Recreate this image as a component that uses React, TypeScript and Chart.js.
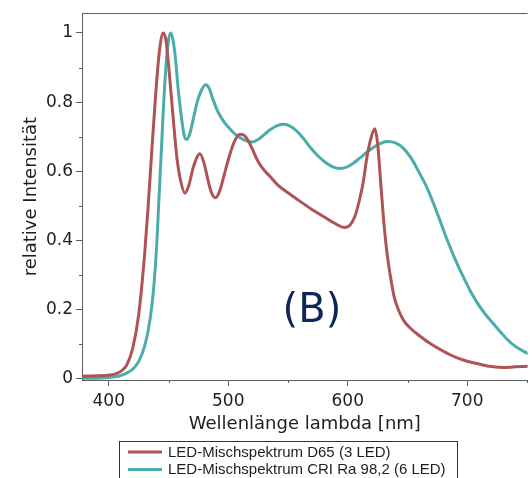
import React, { useEffect, useRef } from "react";
import { Chart, registerables } from "chart.js";

Chart.register(...registerables);

// Spectrum of the 3-LED D65 mix
const wavelengthsD65 = [
  378, 390, 400, 405, 410, 415, 420, 425, 430, 433, 436, 439, 442, 445.5, 448, 451, 454, 457, 460,
  463.8, 467, 471, 476.3, 480, 483, 486, 489.5, 493, 497, 501, 505, 510, 514, 519, 524, 528, 535,
  542, 550, 561, 570, 580, 590, 597, 602, 606, 610, 613, 616, 619, 622.5, 625, 627.5, 630, 633, 636,
  639, 643, 647, 652, 660, 670, 680, 690, 700, 710, 720, 730, 740, 751,
];
const intensityD65 = [
  0.008, 0.009, 0.011, 0.014, 0.022, 0.04, 0.088, 0.185, 0.36, 0.5, 0.66, 0.81, 0.935, 1.0, 0.975,
  0.87, 0.75, 0.64, 0.575, 0.537, 0.56, 0.615, 0.651, 0.62, 0.575, 0.538, 0.524, 0.545, 0.595, 0.645,
  0.685, 0.707, 0.702, 0.673, 0.635, 0.612, 0.585, 0.559, 0.538, 0.511, 0.49, 0.469, 0.448, 0.438,
  0.445, 0.47, 0.52, 0.57, 0.64, 0.69, 0.723, 0.68, 0.57, 0.46, 0.36, 0.29, 0.235, 0.195, 0.168,
  0.148, 0.125, 0.1, 0.08, 0.063, 0.051, 0.043, 0.036, 0.033, 0.035, 0.037,
];

// Spectrum of the 6-LED high-CRI mix
const wavelengthsCRI = [
  378, 390, 400, 405, 410, 415, 420, 425, 430, 433, 436, 438, 440, 442, 444, 446, 448, 450, 452, 454,
  456, 458, 460.5, 463, 465, 467.5, 471, 474, 477, 481, 484, 487, 491, 496, 500, 505.5, 510, 515, 520,
  525, 530, 535, 541, 547, 553, 561, 568, 575, 582, 588, 593, 599, 604, 610, 616, 622, 627, 633, 640,
  647, 654, 660, 666, 672, 678, 684, 690, 696, 702, 708, 714, 721, 728, 735, 742, 751,
];
const intensityCRI = [
  0.002, 0.002, 0.004, 0.006, 0.01, 0.017, 0.028, 0.05, 0.095, 0.14, 0.21, 0.28, 0.38, 0.52, 0.66,
  0.8, 0.91, 0.98, 1.0, 0.975, 0.92, 0.84, 0.765, 0.705, 0.692, 0.705, 0.755, 0.8, 0.83, 0.85, 0.84,
  0.81, 0.775, 0.745, 0.728, 0.708, 0.697, 0.688, 0.685, 0.692, 0.706, 0.72, 0.732, 0.736, 0.728,
  0.703, 0.672, 0.645, 0.624, 0.612, 0.608, 0.612, 0.622, 0.638, 0.655, 0.67, 0.68, 0.686, 0.682,
  0.665, 0.633, 0.595, 0.555, 0.505, 0.45, 0.395, 0.345, 0.3, 0.258, 0.222, 0.192, 0.163, 0.135,
  0.109, 0.09, 0.073,
];

const seriesLabels = ["LED-Mischspektrum D65 (3 LED)", "LED-Mischspektrum CRI Ra 98,2 (6 LED)"];
const seriesColors = ["#b05354", "#4aadaa"];

const xAxisTitle = "Wellenlänge lambda [nm]";
const yAxisTitle = "relative Intensität";
const panelLabel = "(B)";

const AXIS_COLOR = "#5e5e5e";
const TEXT_COLOR = "#1e1e1e";
const TICK_FONT = "'DejaVu Sans', Verdana, sans-serif";
const LEGEND_FONT = "'Liberation Sans', Arial, sans-serif";

const isMajorX = (v: number) => Math.abs(v % 100) < 1e-6;
const isMajorY = (v: number) => Math.round(v * 10) % 2 === 0;

// Short minor ticks between the labelled ones, plus the top frame line
const minorTicks = {
  id: "minorTicks",
  afterDraw(chart: any) {
    const { ctx, chartArea, scales } = chart;
    ctx.save();
    ctx.strokeStyle = AXIS_COLOR;
    ctx.lineWidth = 1;
    ctx.beginPath();
    for (const t of scales.x.ticks) {
      if (isMajorX(t.value)) continue;
      const px = Math.round(scales.x.getPixelForValue(t.value)) + 0.5;
      ctx.moveTo(px, chartArea.bottom);
      ctx.lineTo(px, chartArea.bottom + 3);
    }
    for (const t of scales.y.ticks) {
      if (isMajorY(t.value)) continue;
      const py = Math.round(scales.y.getPixelForValue(t.value)) + 0.5;
      ctx.moveTo(chartArea.left - 3, py);
      ctx.lineTo(chartArea.left, py);
    }
    ctx.stroke();
    ctx.beginPath();
    ctx.moveTo(chartArea.left, Math.round(chartArea.top) + 0.5);
    ctx.lineTo(chartArea.right, Math.round(chartArea.top) + 0.5);
    ctx.stroke();
    ctx.restore();
  },
};

// "(B)" panel marker placed in data coordinates
const panelMarker = {
  id: "panelMarker",
  afterDraw(chart: any) {
    const { ctx, scales } = chart;
    ctx.save();
    ctx.font = `40px ${TICK_FONT}`;
    ctx.fillStyle = "#0f2656";
    ctx.textAlign = "center";
    ctx.textBaseline = "alphabetic";
    ctx.fillText(panelLabel, scales.x.getPixelForValue(570), scales.y.getPixelForValue(0.165));
    ctx.restore();
  },
};

// Boxed legend under the axis title
const boxedLegend = {
  id: "boxedLegend",
  afterDraw(chart: any) {
    const { ctx } = chart;
    const left = 119.5;
    const top = 441.5;
    ctx.save();
    ctx.strokeStyle = "#333333";
    ctx.lineWidth = 1;
    ctx.strokeRect(left, top, 338, 60);
    ctx.font = `15px ${LEGEND_FONT}`;
    ctx.textBaseline = "middle";
    ctx.textAlign = "left";
    chart.data.datasets.forEach((ds: any, i: number) => {
      const y = 452 + i * 17.5;
      ctx.strokeStyle = ds.borderColor;
      ctx.lineWidth = 3;
      ctx.beginPath();
      ctx.moveTo(128, y);
      ctx.lineTo(162, y);
      ctx.stroke();
      ctx.fillStyle = TEXT_COLOR;
      ctx.fillText(ds.label, 168, y + 0.5);
    });
    ctx.restore();
  },
};

export default function App() {
  const canvasRef = useRef<HTMLCanvasElement>(null);

  useEffect(() => {
    const canvas = canvasRef.current;
    if (!canvas) return;
    const toPoints = (xs: number[], ys: number[]) => xs.map((x, i) => ({ x, y: ys[i] }));

    const chart = new Chart(canvas, {
      type: "line",
      data: {
        datasets: [
          {
            label: seriesLabels[0],
            data: toPoints(wavelengthsD65, intensityD65),
            borderColor: seriesColors[0],
            borderWidth: 3,
            pointRadius: 0,
            cubicInterpolationMode: "monotone",
            fill: false,
          },
          {
            label: seriesLabels[1],
            data: toPoints(wavelengthsCRI, intensityCRI),
            borderColor: seriesColors[1],
            borderWidth: 3,
            pointRadius: 0,
            cubicInterpolationMode: "monotone",
            fill: false,
          },
        ],
      },
      options: {
        animation: false,
        responsive: false,
        devicePixelRatio: 1,
        layout: { padding: { top: 9, left: 0, right: 0, bottom: 40 } },
        plugins: { legend: { display: false }, tooltip: { enabled: false } },
        scales: {
          x: {
            type: "linear",
            min: 377.6,
            max: 750.5,
            afterFit: (s: any) => {
              s.height = 58;
            },
            border: { color: AXIS_COLOR, width: 1 },
            grid: {
              drawOnChartArea: false,
              tickLength: 6,
              tickWidth: 1,
              tickColor: (c: any) => (c.tick && isMajorX(c.tick.value) ? AXIS_COLOR : "rgba(0,0,0,0)"),
            },
            ticks: {
              stepSize: 50,
              includeBounds: false,
              maxTicksLimit: 20,
              autoSkip: false,
              maxRotation: 0,
              padding: 5,
              color: TEXT_COLOR,
              font: { family: TICK_FONT, size: 17 },
              callback: (v: any) => (isMajorX(Number(v)) ? String(v) : ""),
            },
            title: {
              display: true,
              text: xAxisTitle,
              color: TEXT_COLOR,
              font: { family: TICK_FONT, size: 18 },
              padding: { top: 0, bottom: 3 },
            },
          },
          y: {
            type: "linear",
            min: -0.003,
            max: 1.057,
            afterFit: (s: any) => {
              s.width = 82;
            },
            border: { color: AXIS_COLOR, width: 1 },
            grid: {
              drawOnChartArea: false,
              tickLength: 6,
              tickWidth: 1,
              tickColor: (c: any) => (c.tick && isMajorY(c.tick.value) ? AXIS_COLOR : "rgba(0,0,0,0)"),
            },
            ticks: {
              stepSize: 0.1,
              includeBounds: false,
              maxTicksLimit: 20,
              autoSkip: false,
              padding: 3,
              color: TEXT_COLOR,
              font: { family: TICK_FONT, size: 17 },
              callback: (v: any) => {
                const r = Math.round(Number(v) * 10);
                if (r % 2 !== 0) return "";
                if (r === 0) return "0";
                if (r === 10) return "1";
                return (r / 10).toFixed(1);
              },
            },
            title: {
              display: true,
              text: yAxisTitle,
              color: TEXT_COLOR,
              font: { family: TICK_FONT, size: 18 },
              padding: { top: 21, bottom: 0 },
            },
          },
        },
      },
      plugins: [minorTicks, panelMarker, boxedLegend],
    });

    return () => chart.destroy();
  }, []);

  return (
    <div style={{ position: "absolute", left: 0, top: 0, width: 532, height: 478, background: "#fff" }}>
      <canvas ref={canvasRef} width={532} height={478} style={{ display: "block" }} />
    </div>
  );
}
